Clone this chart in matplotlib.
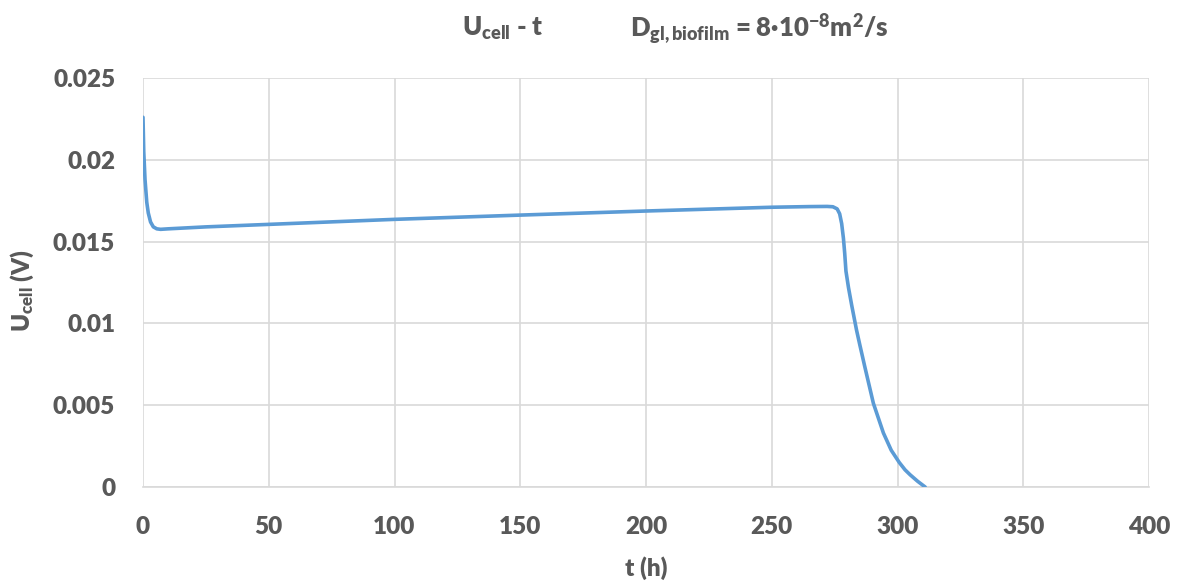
import matplotlib
matplotlib.use("Agg")
import matplotlib.pyplot as plt

# Cell voltage over time
t_h = [0, 0.3, 0.8, 1.5, 2.1, 3, 4.1, 5.5, 7, 10, 25, 54.5, 100, 150, 200,
       250, 265, 272, 274.3, 276, 277, 277.8, 278.5, 279, 279.5, 280.5, 281.8,
       283.7, 285, 287, 290.4, 294.4, 297.5, 300.7, 303, 305, 308, 311]
u_cell = [0.0226, 0.0205, 0.0188, 0.0174, 0.01675, 0.0162, 0.0159, 0.01578,
          0.01575, 0.01578, 0.0159, 0.01608, 0.01636, 0.01662, 0.01687,
          0.01710, 0.01714, 0.01715, 0.01713, 0.01700, 0.01670, 0.01610,
          0.0152, 0.0143, 0.0132, 0.0122, 0.0111, 0.0096, 0.0087, 0.00735,
          0.00512, 0.00330, 0.00225, 0.00150, 0.00105, 0.00075, 0.00035, 0.0]

x_ticks = [0, 50, 100, 150, 200, 250, 300, 350, 400]
y_ticks = [0, 0.005, 0.01, 0.015, 0.02, 0.025]
y_tick_labels = ["0", "0.005", "0.01", "0.015", "0.02", "0.025"]

plt.rcParams["font.family"] = ["Lato", "DejaVu Sans"]
plt.rcParams["mathtext.fontset"] = "custom"
plt.rcParams["mathtext.rm"] = "Lato"
plt.rcParams["mathtext.bf"] = "Lato:heavy"
plt.rcParams["mathtext.it"] = "Lato:italic"

text_color = "#595959"
grid_color = "#d9d9d9"
line_color = "#5b9bd5"
weight = "heavy"

fig = plt.figure(figsize=(11.87, 5.82), dpi=100)
ax = fig.add_axes([143 / 1187, 1 - 487 / 582, (1149 - 143) / 1187, (487 - 78) / 582])

ax.plot(t_h, u_cell, color=line_color, linewidth=2.6, solid_capstyle="round",
        solid_joinstyle="round", zorder=3)

ax.set_xlim(0, 400)
ax.set_ylim(0, 0.025)
ax.set_xticks(x_ticks)
ax.set_yticks(y_ticks)
ax.set_yticklabels(y_tick_labels)
ax.grid(True, color=grid_color, linewidth=1.2)
ax.set_axisbelow(True)
for side in ["top", "right", "left"]:
    ax.spines[side].set_visible(False)
ax.spines["bottom"].set_color(grid_color)
ax.spines["bottom"].set_linewidth(1.2)
ax.tick_params(length=0, labelsize=17.5, colors=text_color)
ax.tick_params(axis="y", pad=20)
ax.tick_params(axis="x", pad=21)
for lbl in ax.get_xticklabels() + ax.get_yticklabels():
    lbl.set_fontweight(weight)

fig.text(646 / 1187, 1 - 568 / 582, "t (h)", ha="center", va="center",
         fontsize=17.5, fontweight=weight, color=text_color)
fig.text(22 / 1187, 1 - 290 / 582, r"$\mathbf{U_{cell}}$" + " (V)", ha="center",
         va="center", rotation=90, fontsize=17.5, fontweight=weight, color=text_color)

fig.text(462 / 1187, 1 - 36 / 582, r"$\mathbf{U_{cell}}$" + " - t", ha="left",
         va="baseline", fontsize=18.5, fontweight=weight, color=text_color)
fig.text(630 / 1187, 1 - 36 / 582,
         r"$\mathbf{D_{gl,biofilm}}$" + " = 8·10" + r"$^{\mathbf{-8}}$" + "m" +
         r"$^{\mathbf{2}}$" + "/s",
         ha="left", va="baseline", fontsize=18.5, fontweight=weight, color=text_color)

fig.savefig("out.png", dpi=100, facecolor="white")
